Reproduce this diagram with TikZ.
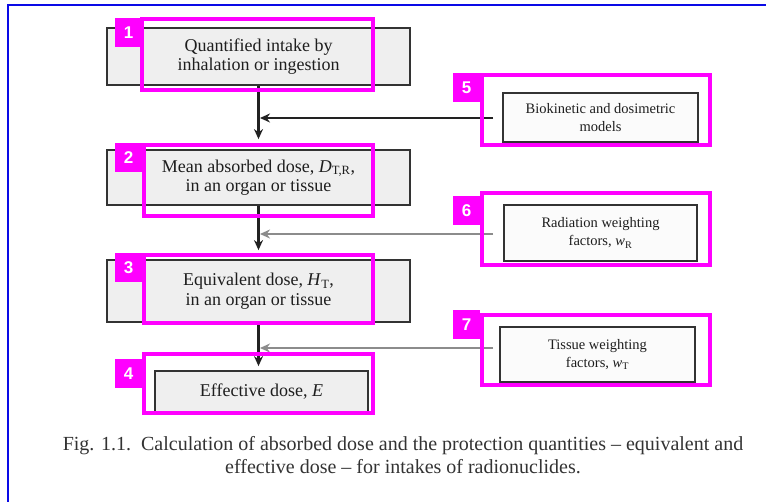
\documentclass[tikz,border=0pt]{standalone}
\usepackage{fontspec}
\setmainfont{Liberation Serif}
\newfontfamily\tagfont{Liberation Sans}
\usetikzlibrary{arrows.meta}

\definecolor{boxedge}{HTML}{333333}
\definecolor{mainfill}{HTML}{EFEFEF}
\definecolor{sidefill}{HTML}{FBFBFB}
\definecolor{hlmag}{HTML}{FF00FF}
\definecolor{txt}{HTML}{1E1E1E}
\definecolor{framecol}{HTML}{0A0AE6}
\definecolor{darkflow}{HTML}{222222}
\definecolor{greyflow}{HTML}{8C8C8C}
\definecolor{captxt}{HTML}{333333}

\tikzset{
  mainbox/.style={draw=boxedge, fill=mainfill, line width=1.8pt, inner sep=0pt,
    align=center, text=txt, font=\fontsize{18}{19.5}\selectfont},
  sidebox/.style={draw=boxedge, fill=sidefill, line width=1.8pt, inner sep=0pt,
    align=center, text=txt, font=\fontsize{14.5}{18}\selectfont},
  hl/.style={draw=hlmag, line width=4pt},
  tag/.style={fill=hlmag, text=white, inner sep=0pt, anchor=north west,
    minimum width=27pt, minimum height=29pt,
    font=\tagfont\bfseries\fontsize{17}{17}\selectfont},
  flow/.style={line width=2.4pt, draw=darkflow, -{Stealth[length=10pt,width=9pt]}},
  sideflow/.style={line width=2.2pt, -{Stealth[length=10pt,width=9pt]}}
}

\begin{document}
\begin{tikzpicture}[x=1pt,y=-1pt]
\useasboundingbox[fill=white] (0,0) rectangle (766,502);

% page frame
\draw[framecol, line width=2pt] (8,502) -- (8,5) -- (766,5);

% main chain of quantities
\node[mainbox, minimum width=303pt, minimum height=57pt] (b1) at (258.5,56.5)
  {Quantified intake by\\inhalation or ingestion};
\node[mainbox, minimum width=303pt, minimum height=55pt] (b2) at (258.5,177.5)
  {Mean absorbed dose, \textit{D}\textsubscript{T,R},\\in an organ or tissue};
\node[mainbox, minimum width=303pt, minimum height=62pt] (b3) at (258.5,291)
  {Equivalent dose, \textit{H}\textsubscript{T},\\in an organ or tissue};
\node[mainbox, minimum width=213pt, minimum height=42pt] (b4) at (261.5,392)
  {Effective dose, \textit{E}};

% inputs on the right
\node[sidebox, minimum width=195pt, minimum height=49pt] (s5) at (600.5,117.5)
  {Biokinetic and dosimetric\\models};
\node[sidebox, minimum width=193pt, minimum height=56pt] (s6) at (600.5,233)
  {Radiation weighting\\factors, \textit{w}\textsubscript{R}};
\node[sidebox, minimum width=195pt, minimum height=55pt] (s7) at (597.5,354.5)
  {Tissue weighting\\factors, \textit{w}\textsubscript{T}};

% connectors
\draw[flow] (b1.south) -- ([yshift=10pt]b2.north);
\draw[flow] (b2.south) -- ([yshift=9pt]b3.north);
\draw[flow] (b3.south) -- ([yshift=4pt]b3.south |- b4.north);

\coordinate (t5) at (493,118);
\coordinate (t6) at (493,234);
\coordinate (t7) at (493,348);
\draw[sideflow, draw=darkflow] (t5) -- ([xshift=1.5pt]t5 -| b1.center);
\draw[sideflow, draw=greyflow] (t6) -- ([xshift=1.5pt]t6 -| b1.center);
\draw[sideflow, draw=greyflow] (t7) -- ([xshift=1.5pt]t7 -| b1.center);

% highlight frames
\draw[hl] (142,19) rectangle (373,90);
\draw[hl] (144,145) rectangle (373,216);
\draw[hl] (144,255) rectangle (373,323);
\draw[hl] (144,354) rectangle (373,413);
\draw[hl] (482,75) rectangle (710,145);
\draw[hl] (482,193) rectangle (710,265);
\draw[hl] (482,315) rectangle (710,385);

% numbered tags
\node[tag] (n1) at (115,18) {1};
\node[tag] (n2) at (115,143) {2};
\node[tag] (n3) at (115,253) {3};
\node[tag] (n4) at (115,359) {4};
\node[tag] (n5) at (453,73) {5};
\node[tag] (n6) at (453,196) {6};
\node[tag] (n7) at (453,310) {7};

% caption
\node[align=center, text=captxt, font=\fontsize{20}{23.5}\selectfont, inner sep=0pt]
  (cap) at (403,455)
  {Fig. 1.1.\ \ Calculation of absorbed dose and the protection quantities -- equivalent and\\
   effective dose -- for intakes of radionuclides.};
\end{tikzpicture}
\end{document}
